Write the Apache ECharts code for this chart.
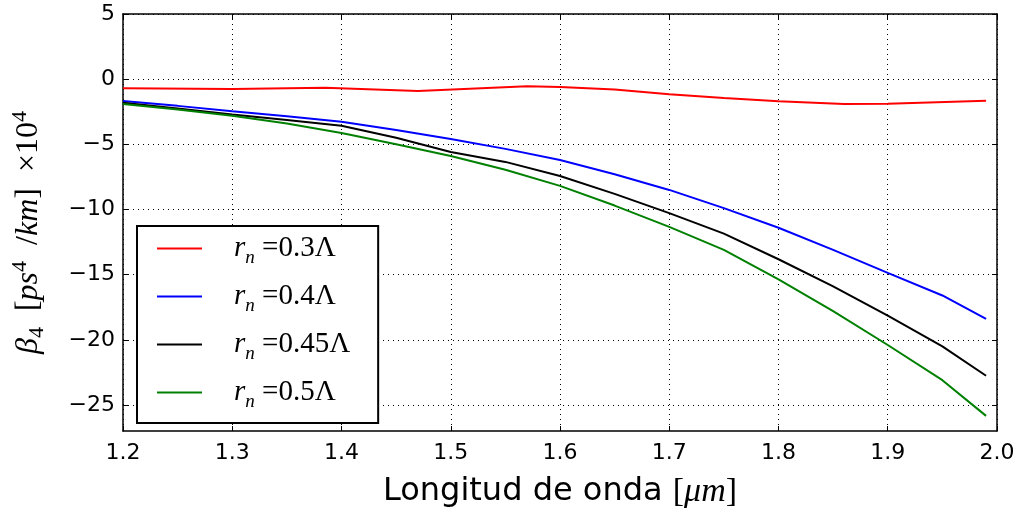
<!DOCTYPE html>
<html>
<head>
<meta charset="utf-8">
<script src="https://cdn.jsdelivr.net/npm/echarts@6/dist/echarts.min.js"></script>
<style>
  html, body { margin: 0; padding: 0; background: #fff; }
  #chart { width: 1026px; height: 514px; }
</style>
</head>
<body>
<div id="chart"></div>
<script>
// longitud de onda (um)
const lambdaR = [1.2, 1.3, 1.385, 1.47, 1.57, 1.6, 1.65, 1.7, 1.75, 1.8, 1.86, 1.9, 1.99];
const lambdaA = [1.2, 1.25, 1.3, 1.35, 1.4, 1.45, 1.5, 1.55, 1.6, 1.65, 1.7, 1.75, 1.8, 1.85, 1.9, 1.95, 1.99];

// beta4 x10^4
const rn03 = [-0.70, -0.75, -0.65, -0.90, -0.55, -0.60, -0.80, -1.15, -1.45, -1.70, -1.90, -1.88, -1.65];
const rn04 = [-1.68, -2.05, -2.46, -2.85, -3.27, -3.90, -4.60, -5.35, -6.20, -7.30, -8.50, -9.90, -11.40, -13.10, -14.87, -16.60, -18.40];
const rn045 = [-1.81, -2.25, -2.72, -3.13, -3.57, -4.50, -5.59, -6.35, -7.43, -8.80, -10.28, -11.85, -13.82, -15.90, -18.15, -20.50, -22.76];
const rn05 = [-1.90, -2.33, -2.80, -3.40, -4.13, -5.00, -5.90, -6.95, -8.19, -9.70, -11.34, -13.10, -15.37, -17.80, -20.40, -23.10, -25.84];

const seriesNames = ["rn=0.3", "rn=0.4", "rn=0.45", "rn=0.5"];
const seriesLabels = ["0.3Λ", "0.4Λ", "0.45Λ", "0.5Λ"];
const seriesColors = ["#ff0000", "#0000ff", "#000000", "#008000"];
const yTicks = [5, 0, -5, -10, -15, -20, -25];

const pairs = (xs, ys) => xs.map((x, i) => [x, ys[i]]);
const seriesData = [pairs(lambdaR, rn03), pairs(lambdaA, rn04), pairs(lambdaA, rn045), pairs(lambdaA, rn05)];

const chart = echarts.init(document.getElementById("chart"));

const tickFont = { fontFamily: "DejaVu Sans", fontSize: 22, color: "#000" };
const frameLine = { show: true, onZero: false, lineStyle: { color: "#000", width: 1.5 } };
const gridLine = { show: true, lineStyle: { color: "#000", width: 1, type: [1, 4] } };
const innerTick = { show: true, inside: true, length: 5, lineStyle: { color: "#000", width: 1 } };
const fmtNum = (v) => (v < 0 ? "\u2212" + Math.abs(v) : String(v));
const serif = "Liberation Serif";

const option = {
  animation: false,
  backgroundColor: "#fff",
  grid: { left: 123, right: 29, top: 14, bottom: 77, containLabel: false },
  xAxis: [
    {
      type: "value",
      min: 1.2,
      max: 2.0,
      interval: 0.1,
      axisLine: frameLine,
      axisTick: innerTick,
      axisLabel: { ...tickFont, margin: 11, formatter: (v) => v.toFixed(1) },
      splitLine: gridLine,
      name: "{t|Longitud de onda }{m|[}{mi|μm}{m|]}",
      nameLocation: "middle",
      nameGap: 44,
      nameTextStyle: {
        rich: {
          t: { fontFamily: "DejaVu Sans", fontSize: 32, color: "#000" },
          m: { fontFamily: serif, fontSize: 34, color: "#000" },
          mi: { fontFamily: serif, fontStyle: "italic", fontSize: 34, color: "#000" },
        },
      },
    },
    {
      type: "value",
      position: "top",
      min: 1.2,
      max: 2.0,
      interval: 0.1,
      axisLine: frameLine,
      axisTick: innerTick,
      axisLabel: { show: false },
      splitLine: { show: false },
    },
  ],
  yAxis: [
    {
      type: "value",
      min: -27,
      max: 5,
      axisLine: frameLine,
      axisTick: { ...innerTick, customValues: yTicks },
      axisLabel: { ...tickFont, margin: 8, customValues: yTicks, formatter: fmtNum },
      splitLine: gridLine,
      name: "{g|β}{sub|4}{b|  [}{i|ps}{sup|4}{b|  /}{i|km}{b|]  ×10}{sup|4}",
      nameLocation: "middle",
      nameRotate: 90,
      nameGap: 74,
      nameTextStyle: {
        padding: [0, 20, 0, 0],
        rich: {
          g: { fontFamily: serif, fontStyle: "italic", fontSize: 32, color: "#000" },
          i: { fontFamily: serif, fontStyle: "italic", fontSize: 32, color: "#000" },
          b: { fontFamily: serif, fontSize: 32, color: "#000" },
          sub: { fontFamily: serif, fontSize: 22, color: "#000", padding: [16, 0, 0, 0] },
          sup: { fontFamily: serif, fontSize: 22, color: "#000", padding: [0, 0, 18, 0] },
        },
      },
    },
    {
      type: "value",
      position: "right",
      min: -27,
      max: 5,
      axisLine: frameLine,
      axisTick: { ...innerTick, customValues: yTicks },
      axisLabel: { show: false },
      splitLine: { show: false },
    },
  ],
  legend: {
    orient: "vertical",
    left: 137,
    top: 226,
    padding: [8, 28, 12, 20],
    itemGap: 15,
    itemWidth: 45,
    itemHeight: 2,
    icon: "rect",
    backgroundColor: "#fff",
    borderColor: "#000",
    borderWidth: 2,
    borderRadius: 0,
    data: seriesNames,
    formatter: (name) => "{sp|}{r|r}{n|n}{e| =" + seriesLabels[seriesNames.indexOf(name)] + "}",
    textStyle: {
      rich: {
        sp: { width: 27 },
        r: { fontFamily: serif, fontStyle: "italic", fontSize: 29, color: "#000", lineHeight: 36 },
        n: { fontFamily: serif, fontStyle: "italic", fontSize: 19, color: "#000", padding: [18, 0, 0, 0] },
        e: { fontFamily: serif, fontSize: 29, color: "#000", lineHeight: 36 },
      },
    },
  },
  series: seriesNames.map((name, k) => ({
    name: name,
    type: "line",
    xAxisIndex: 0,
    yAxisIndex: 0,
    data: seriesData[k],
    showSymbol: false,
    symbol: "none",
    color: seriesColors[k],
    lineStyle: { width: 2, color: seriesColors[k] },
    z: 3,
  })),
};

chart.setOption(option);
</script>
</body>
</html>
